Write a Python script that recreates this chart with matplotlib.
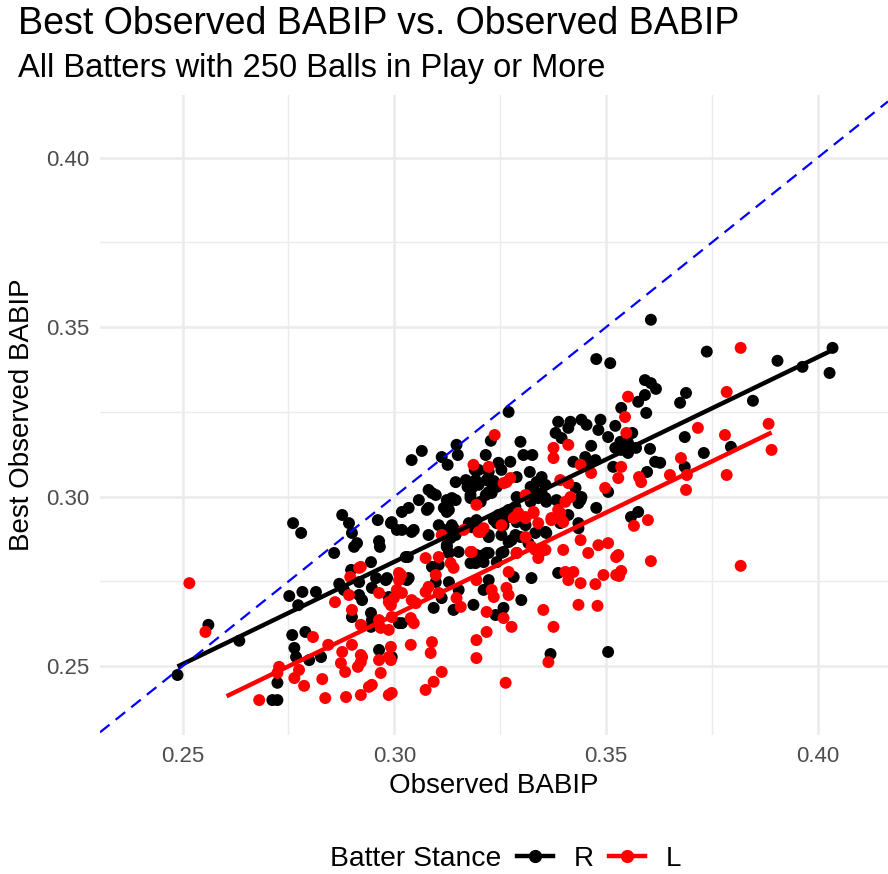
import numpy as np
import matplotlib
matplotlib.use("Agg")
import matplotlib.pyplot as plt
from matplotlib.lines import Line2D

plt.rcParams['font.family'] = ['Liberation Sans', 'DejaVu Sans']

# ---------------- data (Observed BABIP, Best Observed BABIP) ----------------
right_handed = [
    (0.2488, 0.2474), (0.2561, 0.2622), (0.2634, 0.2575), (0.2761, 0.2922), (0.2780, 0.2893),
    (0.2877, 0.2946), (0.2893, 0.2922), (0.2900, 0.2893), (0.2912, 0.2863), (0.2858, 0.2834),
    (0.2961, 0.2931), (0.2992, 0.2922), (0.2964, 0.2869), (0.2966, 0.2852), (0.2945, 0.2807),
    (0.3006, 0.2902), (0.2752, 0.2707), (0.2783, 0.2719), (0.2815, 0.2719), (0.2773, 0.2680),
    (0.2870, 0.2743), (0.2898, 0.2784), (0.2881, 0.2725), (0.2917, 0.2710), (0.2924, 0.2695),
    (0.2947, 0.2731), (0.2900, 0.2645), (0.2945, 0.2657), (0.2945, 0.2616), (0.2980, 0.2754),
    (0.2987, 0.2704), (0.2759, 0.2592), (0.2790, 0.2601), (0.2764, 0.2554), (0.2768, 0.2527),
    (0.2799, 0.2518), (0.2827, 0.2527), (0.2724, 0.2451), (0.2712, 0.2400), (0.2724, 0.2400),
    (0.2964, 0.2548), (0.3011, 0.2627),
    (0.3477, 0.3406), (0.3510, 0.3394), (0.3270, 0.3250), (0.3041, 0.3108), (0.3065, 0.3135),
    (0.3112, 0.3117), (0.3126, 0.3094), (0.3147, 0.3153), (0.3150, 0.3123), (0.3228, 0.3165),
    (0.3216, 0.3123), (0.3298, 0.3162), (0.3305, 0.3123), (0.3326, 0.3123), (0.3246, 0.3100),
    (0.3274, 0.3103), (0.3253, 0.3079), (0.3190, 0.3079), (0.3192, 0.3049), (0.3145, 0.3043),
    (0.3169, 0.3049), (0.3173, 0.3029), (0.3199, 0.3035), (0.3218, 0.3049), (0.3235, 0.3046),
    (0.3223, 0.3014), (0.3242, 0.3029), (0.3289, 0.3058), (0.3320, 0.3073), (0.3336, 0.3043),
    (0.3348, 0.3058), (0.3322, 0.3029), (0.3357, 0.3035), (0.3387, 0.3221), (0.3416, 0.3221),
    (0.3411, 0.3203), (0.3381, 0.3188), (0.3395, 0.3173), (0.3442, 0.3227), (0.3454, 0.3212),
    (0.3487, 0.3227), (0.3482, 0.3197), (0.3465, 0.3150), (0.3505, 0.3176), (0.3522, 0.3209),
    (0.3536, 0.3262), (0.3423, 0.3103), (0.3451, 0.3117), (0.3475, 0.3108), (0.3458, 0.3088),
    (0.3522, 0.3144), (0.3536, 0.3138), (0.3517, 0.3088), (0.3505, 0.3014), (0.3477, 0.2967),
    (0.3145, 0.2990), (0.3089, 0.3011), (0.3081, 0.3020), (0.3058, 0.2990), (0.3081, 0.2967),
    (0.3129, 0.2985), (0.3117, 0.2967), (0.3180, 0.3005), (0.3204, 0.2985), (0.3230, 0.3011),
    (0.3289, 0.2999), (0.3286, 0.2970), (0.3428, 0.3026), (0.3440, 0.2990), (0.3018, 0.2955),
    (0.3034, 0.2967), (0.3329, 0.3020), (0.3357, 0.2996), (0.3383, 0.2990),
    (0.3738, 0.3428), (0.3905, 0.3401), (0.3964, 0.3383), (0.4035, 0.3439), (0.4028, 0.3365),
    (0.3847, 0.3283), (0.3689, 0.3306), (0.3675, 0.3277), (0.3592, 0.3344), (0.3606, 0.3335),
    (0.3618, 0.3318), (0.3592, 0.3300), (0.3576, 0.3280), (0.3595, 0.3247), (0.3562, 0.3188),
    (0.3552, 0.3129), (0.3571, 0.3144), (0.3604, 0.3141), (0.3686, 0.3176), (0.3731, 0.3129),
    (0.3795, 0.3147), (0.3616, 0.3103), (0.3628, 0.3100), (0.3686, 0.3088), (0.3597, 0.3073),
    (0.3576, 0.2955), (0.3559, 0.2940), (0.3606, 0.3522),
    (0.2994, 0.2925), (0.3018, 0.2902), (0.3041, 0.2896), (0.3077, 0.2961), (0.3124, 0.2955),
    (0.3081, 0.2887), (0.3105, 0.2916), (0.3117, 0.2902), (0.3133, 0.2878), (0.3140, 0.2907),
    (0.3124, 0.2852), (0.3152, 0.2837), (0.3129, 0.2834), (0.3183, 0.2910), (0.3194, 0.2931),
    (0.3223, 0.2881), (0.3235, 0.2931), (0.3258, 0.2916), (0.3263, 0.2940), (0.3270, 0.2866),
    (0.3286, 0.2887), (0.3253, 0.2834), (0.3223, 0.2834), (0.3194, 0.2828), (0.3180, 0.2804),
    (0.3211, 0.2807), (0.3242, 0.2807), (0.3333, 0.2893), (0.3359, 0.2893), (0.3345, 0.2837),
    (0.3317, 0.2863), (0.3435, 0.2922), (0.3034, 0.2760), (0.3098, 0.2748), (0.3129, 0.2748),
    (0.3152, 0.2725), (0.3112, 0.2701), (0.3093, 0.2672), (0.3140, 0.2666), (0.3187, 0.2681),
    (0.3211, 0.2725), (0.3223, 0.2754), (0.3282, 0.2763), (0.3324, 0.2760), (0.3387, 0.2775),
    (0.3300, 0.2695), (0.3258, 0.2672), (0.3239, 0.2651), (0.3018, 0.2627), (0.2994, 0.2527),
    (0.3369, 0.2536), (0.3505, 0.2542),
    (0.3098, 0.3005), (0.3124, 0.2990), (0.3136, 0.2996), (0.3129, 0.2961), (0.3223, 0.3073),
    (0.3183, 0.3025), (0.3230, 0.3020), (0.3216, 0.3005), (0.3180, 0.2996), (0.3199, 0.3079),
    (0.3136, 0.2916), (0.3145, 0.2887), (0.3124, 0.2857), (0.3176, 0.2922), (0.3192, 0.2922),
    (0.3223, 0.2887), (0.3242, 0.2922), (0.3211, 0.2828), (0.3192, 0.2804), (0.3218, 0.2834),
    (0.3027, 0.2822), (0.3089, 0.2793), (0.3105, 0.2799),
    (0.3348, 0.3011), (0.3270, 0.2961), (0.3322, 0.2985), (0.3359, 0.2985), (0.3340, 0.2996),
    (0.3442, 0.2999), (0.3435, 0.2981), (0.3246, 0.2946), (0.3270, 0.2940), (0.3289, 0.2925),
    (0.3310, 0.2916), (0.3253, 0.2887), (0.3277, 0.2872), (0.3298, 0.2881), (0.3357, 0.2896),
    (0.3392, 0.2922), (0.3411, 0.2946), (0.3435, 0.2907), (0.3258, 0.2837), (0.3289, 0.2834),
    (0.3534, 0.3162), (0.3552, 0.3159),
    (0.2905, 0.2852), (0.3046, 0.2902), (0.2917, 0.2748), (0.2957, 0.2760), (0.2983, 0.2760),
    (0.3030, 0.2754), (0.3032, 0.2822), (0.2947, 0.2636),
]

left_handed = [
    (0.2516, 0.2745), (0.2554, 0.2601), (0.2808, 0.2586), (0.2844, 0.2563), (0.2877, 0.2542),
    (0.2874, 0.2509), (0.2884, 0.2483), (0.2728, 0.2498), (0.2724, 0.2480), (0.2775, 0.2489),
    (0.2764, 0.2465), (0.2787, 0.2442), (0.2830, 0.2462), (0.2681, 0.2400), (0.2837, 0.2406),
    (0.2886, 0.2409), (0.2921, 0.2415), (0.2940, 0.2439), (0.2947, 0.2445), (0.2968, 0.2480),
    (0.2924, 0.2527), (0.2914, 0.2498), (0.2992, 0.2518), (0.2992, 0.2557), (0.2987, 0.2415),
    (0.2900, 0.2563), (0.2921, 0.2622), (0.2900, 0.2666), (0.2860, 0.2689), (0.2893, 0.2710),
    (0.2964, 0.2716), (0.2992, 0.2680), (0.2999, 0.2701), (0.3011, 0.2754), (0.2917, 0.2790),
    (0.2896, 0.2763), (0.2968, 0.2613), (0.2987, 0.2607), (0.2994, 0.2645),
    (0.3237, 0.3182), (0.3187, 0.3094), (0.3223, 0.3088), (0.3376, 0.3144), (0.3376, 0.3114),
    (0.3411, 0.3153), (0.3265, 0.3043), (0.3440, 0.3094), (0.3465, 0.3070), (0.3552, 0.3295),
    (0.3545, 0.3235), (0.3536, 0.3088), (0.3529, 0.3055), (0.3498, 0.3026), (0.3194, 0.2976),
    (0.3392, 0.3049), (0.3416, 0.2999), (0.3404, 0.2985), (0.3310, 0.3005), (0.3411, 0.3040),
    (0.3818, 0.3439), (0.3785, 0.3309), (0.3717, 0.3203), (0.3781, 0.3182), (0.3884, 0.3215),
    (0.3891, 0.3138), (0.3677, 0.3114), (0.3691, 0.3064), (0.3689, 0.3020), (0.3651, 0.3064),
    (0.3785, 0.3064), (0.3578, 0.3058), (0.3583, 0.3043), (0.3599, 0.2931),
    (0.3566, 0.2914), (0.3606, 0.2810), (0.3818, 0.2796), (0.3536, 0.2781), (0.3529, 0.2828),
    (0.3531, 0.2766),
    (0.3011, 0.2775), (0.3018, 0.2716), (0.3041, 0.2695), (0.3039, 0.2642), (0.3046, 0.2627),
    (0.2994, 0.2421), (0.3039, 0.2563), (0.3086, 0.2539), (0.3089, 0.2571), (0.3112, 0.2483),
    (0.3093, 0.2454), (0.3074, 0.2430), (0.3194, 0.2577), (0.3194, 0.2524), (0.3218, 0.2601),
    (0.3263, 0.2451), (0.3277, 0.2616), (0.3258, 0.2642), (0.3218, 0.2660), (0.3352, 0.2666),
    (0.3376, 0.2616), (0.3364, 0.2512), (0.3435, 0.2681), (0.3480, 0.2678), (0.3440, 0.2745),
    (0.3475, 0.2742), (0.3494, 0.2769), (0.3524, 0.2769), (0.3404, 0.2778), (0.3423, 0.2778),
    (0.3411, 0.2754), (0.3399, 0.2843), (0.3458, 0.2834), (0.3482, 0.2857), (0.3505, 0.2863),
    (0.3524, 0.2822), (0.3440, 0.2872), (0.3340, 0.2819), (0.3333, 0.2843), (0.3270, 0.2778),
    (0.3265, 0.2731), (0.3270, 0.2710), (0.3230, 0.2725), (0.3235, 0.2704), (0.3147, 0.2701),
    (0.3157, 0.2675), (0.3074, 0.2719), (0.3081, 0.2734), (0.3105, 0.2716), (0.3098, 0.2769),
    (0.3074, 0.2819), (0.3105, 0.2822), (0.3133, 0.2804), (0.3140, 0.2790), (0.3180, 0.2837),
    (0.3194, 0.2754), (0.3204, 0.2896), (0.3211, 0.2907), (0.3253, 0.2916), (0.3286, 0.2940),
    (0.3310, 0.2940), (0.3329, 0.2952), (0.3340, 0.2922), (0.3371, 0.2931), (0.3395, 0.2931),
    (0.3387, 0.2961), (0.3112, 0.2887), (0.3006, 0.2725), (0.3016, 0.2769),
    (0.3258, 0.3040), (0.3199, 0.2896), (0.3183, 0.2837), (0.3164, 0.2902),
    (0.3548, 0.3188), (0.3274, 0.3055), (0.3293, 0.2952), (0.3310, 0.2937), (0.3329, 0.2955),
    (0.3282, 0.2937), (0.3371, 0.2937), (0.3392, 0.2952), (0.3399, 0.2925), (0.3310, 0.2881),
    (0.3324, 0.2852), (0.3357, 0.2843), (0.3289, 0.2834),
    (0.2921, 0.2793), (0.2964, 0.2636), (0.2987, 0.2689), (0.3051, 0.2686), (0.2921, 0.2533),
    (0.2921, 0.2512), (0.2964, 0.2518), (0.2987, 0.2527),
]

stances = ["R", "L"]
stance_colors = {"R": "#000000", "L": "#FF0000"}
fit_ranges = {"R": (0.2488, 0.4035), "L": (0.2604, 0.3891)}

x_ticks = [0.25, 0.30, 0.35, 0.40]
y_ticks = [0.25, 0.30, 0.35, 0.40]
x_minor = [0.275, 0.325, 0.375]
y_minor = [0.275, 0.325, 0.375]

title = "Best Observed BABIP vs. Observed BABIP"
subtitle = "All Batters with 250 Balls in Play or More"
x_label = "Observed BABIP"
y_label = "Best Observed BABIP"
legend_title = "Batter Stance"

groups = {"R": np.array(right_handed), "L": np.array(left_handed)}

# ---------------- figure ----------------
W, H = 888, 874
fig = plt.figure(figsize=(W / 100, H / 100), dpi=100)
ax = fig.add_axes([100 / W, 1 - 735 / H, 788 / W, 640 / H])

ax.set_xlim(0.2305, 0.4166)
ax.set_ylim(0.2297, 0.4185)

for s in ax.spines.values():
    s.set_visible(False)
ax.set_xticks(x_ticks)
ax.set_yticks(y_ticks)
ax.set_xticks(x_minor, minor=True)
ax.set_yticks(y_minor, minor=True)
ax.set_xticklabels([f"{v:.2f}" for v in x_ticks])
ax.set_yticklabels([f"{v:.2f}" for v in y_ticks])
ax.tick_params(which="both", length=0)
ax.tick_params(axis="both", labelsize=16, colors="#4D4D4D", pad=8)
ax.grid(which="major", color="#EBEBEB", lw=1.8, zorder=0)
ax.grid(which="minor", color="#EBEBEB", lw=1.0, zorder=0)
ax.set_axisbelow(True)

for st in stances:
    d = groups[st]
    ax.scatter(d[:, 0], d[:, 1], s=74, color=stance_colors[st], edgecolors="none", zorder=2)

for st in stances:
    d = groups[st]
    slope, intercept = np.polyfit(d[:, 0], d[:, 1], 1)
    xs = np.array(fit_ranges[st])
    ax.plot(xs, intercept + slope * xs, color=stance_colors[st], lw=3.2, zorder=3,
            solid_capstyle="butt")

ax.axline((0.25, 0.25), slope=1, color="#0000FF", lw=1.6, ls=(0, (5.5, 3.5)), zorder=4)

ax.set_xlabel(x_label, fontsize=20, color="black", labelpad=4)
ax.set_ylabel(y_label, fontsize=20, color="black", labelpad=8)

fig.text(18 / W, 1 - 24 / H, title, fontsize=27, ha="left", va="center")
fig.text(18 / W, 1 - 68 / H, subtitle, fontsize=23.5, ha="left", va="center")

# legend
fig.text(330 / W, 1 - 859 / H, legend_title, fontsize=20.3, ha="left", va="center")
handles = [Line2D([0], [0], color=stance_colors[st], lw=3.2, marker="o", markersize=8.5)
           for st in stances]
fig.legend(handles, stances, loc="center left", bbox_to_anchor=(517 / W, 1 - 859 / H),
           ncol=2, frameon=False, fontsize=20, handlelength=1.3, handletextpad=0.75,
           columnspacing=0.55, borderpad=0, borderaxespad=0)

fig.savefig("out.png", dpi=100, facecolor="white")
